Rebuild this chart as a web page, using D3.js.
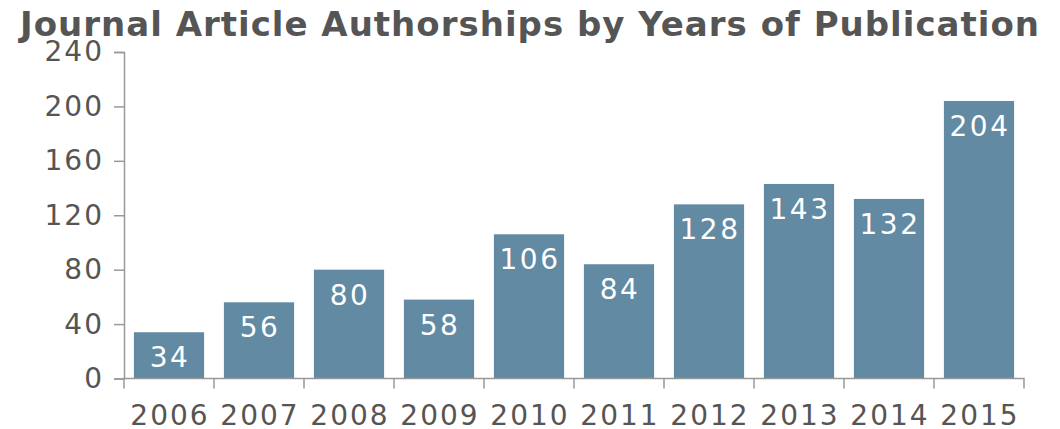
<!DOCTYPE html>
<html>
<head>
<meta charset="utf-8">
<script src="https://cdn.jsdelivr.net/npm/d3@7"></script>
<style>
  html, body { margin: 0; padding: 0; background: #fff; }
  svg { display: block; font-family: "DejaVu Sans", sans-serif; }
  .axis text { fill: #555; font-size: 28px; letter-spacing: 2px; font-family: "DejaVu Sans", sans-serif; }
  .axis path, .axis line { stroke: #999; stroke-width: 1.5; }
</style>
</head>
<body>
<div id="chart"></div>
<script>
// authorships per publication year
const years = ['2006', '2007', '2008', '2009', '2010', '2011', '2012', '2013', '2014', '2015'];
const counts = [34, 56, 80, 58, 106, 84, 128, 143, 132, 204];
const yTicks = [0, 40, 80, 120, 160, 200, 240];

const W = 1060, H = 429;
const margin = { top: 52, right: 36, bottom: 50.5, left: 124 };

const svg = d3.select('#chart').append('svg').attr('width', W).attr('height', H);

const x = d3.scaleBand().domain(years)
    .range([margin.left, W - margin.right])
    .paddingInner(0.22).paddingOuter(0.11);
const y = d3.scaleLinear().domain([0, 240]).range([H - margin.bottom, margin.top]);

svg.append('text')
    .attr('x', 530).attr('y', 36)
    .attr('text-anchor', 'middle')
    .attr('fill', '#555')
    .style('font-size', '34px')
    .style('font-weight', 'bold')
    .style('letter-spacing', '1px')
    .text('Journal Article Authorships by Years of Publication');

// bars
svg.append('g').selectAll('rect').data(years).join('rect')
    .attr('x', (d) => x(d))
    .attr('y', (d, i) => y(counts[i]))
    .attr('width', x.bandwidth())
    .attr('height', (d, i) => y(0) - y(counts[i]))
    .attr('fill', '#628aa3');

svg.append('g').selectAll('text').data(years).join('text')
    .attr('x', (d) => x(d) + x.bandwidth() / 2 + 1)
    .attr('y', (d, i) => y(counts[i]) + 35)
    .attr('text-anchor', 'middle')
    .attr('fill', '#fff')
    .style('font-size', '28px')
    .style('letter-spacing', '2.5px')
    .text((d, i) => counts[i]);

// y axis
svg.append('g').attr('class', 'axis')
    .attr('transform', `translate(${margin.left},0)`)
    .call(d3.axisLeft(y).tickValues(yTicks).tickSize(10).tickPadding(10));

// x axis: ticks sit on the band edges, labels in the middle
const gx = svg.append('g').attr('class', 'axis')
    .attr('transform', `translate(0,${y(0)})`);
const edges = d3.scaleLinear().domain([0, years.length]).range([margin.left, W - margin.right]);
gx.append('path')
    .attr('fill', 'none')
    .attr('d', `M${margin.left},10V0H${W - margin.right}V10`);
gx.selectAll('line').data(d3.range(1, years.length)).join('line')
    .attr('x1', (i) => edges(i)).attr('x2', (i) => edges(i))
    .attr('y1', 0).attr('y2', 10);
gx.selectAll('text').data(years).join('text')
    .attr('x', (d) => x(d) + x.bandwidth() / 2 + 1)
    .attr('y', 46)
    .attr('text-anchor', 'middle')
    .text((d) => d);
</script>
</body>
</html>
